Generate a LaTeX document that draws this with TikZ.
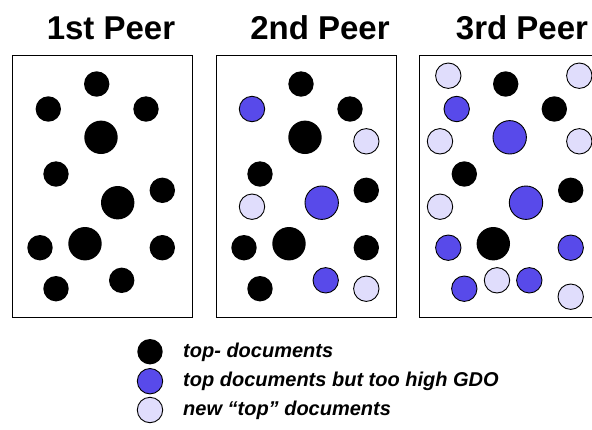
\documentclass[tikz,border=0pt]{standalone}
\usepackage{fontspec}
\setmainfont{Liberation Sans}
\usepackage{tikz}

\definecolor{gdoblue}{RGB}{88,74,234}
\definecolor{newlilac}{RGB}{224,221,252}

\tikzset{
  doc/.style={circle, fill=black, inner sep=0pt, minimum size=25.4pt},
  gdo/.style={circle, fill=gdoblue, draw=black, line width=0.9pt, inner sep=0pt, minimum size=25.4pt},
  newdoc/.style={circle, fill=newlilac, draw=black, line width=0.9pt, inner sep=0pt, minimum size=25.4pt},
  big/.style={minimum size=33.4pt},
  peer/.style={font=\fontsize{33}{36}\selectfont\bfseries, anchor=base},
  legtext/.style={font=\fontsize{20}{22}\selectfont\bfseries\itshape, anchor=base west, inner sep=0pt}
}

\begin{document}
\begin{tikzpicture}[x=1pt, y=-1pt]
            \clip (0,0) rectangle (592,429);
            \fill[white] (0,0) rectangle (592,429);

            % titles
            \node[peer] (t1) at (111, 39.5) {1st Peer};
            \node[peer] (t2) at (320, 39.5) {2nd Peer};
            \node[peer] (t3) at (522, 39.5) {3rd Peer};

            % frames
            \draw[line width=1pt] (12,55) rectangle (192,317);
            \draw[line width=1pt] (216,55) rectangle (396,317);
            \draw[line width=1pt] (419.5,55) rectangle (599.5,317);

            % 1st peer
            \node[doc] (a1) at (96.7, 84) {};
            \node[doc] (a2) at (48.3, 109) {};
            \node[doc] (a3) at (146, 109) {};
            \node[doc, big] (a4) at (101, 137.3) {};
            \node[doc] (a5) at (56, 174) {};
            \node[doc] (a6) at (162.3, 190.3) {};
            \node[doc, big] (a7) at (117.7, 202.7) {};
            \node[doc] (a8) at (40, 247.7) {};
            \node[doc, big] (a9) at (85, 243.7) {};
            \node[doc] (a10) at (162.3, 247.7) {};
            \node[doc] (a11) at (121.7, 280.3) {};
            \node[doc] (a12) at (56, 288.7) {};

            % 2nd peer
            \node[doc] (b1) at (301, 84) {};
            \node[gdo] (b2) at (252, 109) {};
            \node[doc] (b3) at (350, 109) {};
            \node[doc, big] (b4) at (305, 137.3) {};
            \node[newdoc] (b5) at (366.3, 141.3) {};
            \node[doc] (b6) at (260, 174) {};
            \node[doc] (b7) at (366.3, 190.3) {};
            \node[newdoc] (b8) at (252, 206.7) {};
            \node[gdo, big] (b9) at (321.7, 202.7) {};
            \node[doc] (b10) at (244, 247.7) {};
            \node[doc, big] (b11) at (289, 243.7) {};
            \node[doc] (b12) at (366.3, 247.7) {};
            \node[gdo] (b13) at (325.7, 280.3) {};
            \node[doc] (b14) at (260, 288.7) {};
            \node[newdoc] (b15) at (366.3, 288.7) {};

            % 3rd peer
            \node[newdoc] (c1) at (448.3, 75.7) {};
            \node[doc] (c2) at (505.7, 84) {};
            \node[newdoc] (c3) at (579.3, 75.7) {};
            \node[gdo] (c4) at (456.7, 109) {};
            \node[doc] (c5) at (554.3, 109) {};
            \node[gdo, big] (c6) at (509.7, 137.3) {};
            \node[newdoc] (c7) at (440, 141.3) {};
            \node[newdoc] (c8) at (579.3, 141.3) {};
            \node[doc] (c9) at (464.3, 174) {};
            \node[doc] (c10) at (570.7, 190.3) {};
            \node[newdoc] (c11) at (440, 206.7) {};
            \node[gdo, big] (c12) at (526, 202.7) {};
            \node[gdo] (c13) at (448.3, 247.7) {};
            \node[doc, big] (c14) at (493.3, 243.7) {};
            \node[gdo] (c15) at (570.7, 247.7) {};
            \node[gdo] (c16) at (464.3, 288.7) {};
            \node[newdoc] (c17) at (497, 280.3) {};
            \node[gdo] (c18) at (529.3, 280.3) {};
            \node[newdoc] (c19) at (570.7, 296.7) {};

            % legend
            \node[doc] (k1) at (150, 351.7) {};
            \node[gdo] (k2) at (150, 381.2) {};
            \node[newdoc] (k3) at (150, 410) {};
            \node[legtext] (l1) at (183, 357.7) {top- documents};
            \node[legtext] (l2) at (183, 386.7) {top documents but too high GDO};
            \node[legtext] (l3) at (183, 415.5) {new “top” documents};
        \end{tikzpicture}
\end{document}
